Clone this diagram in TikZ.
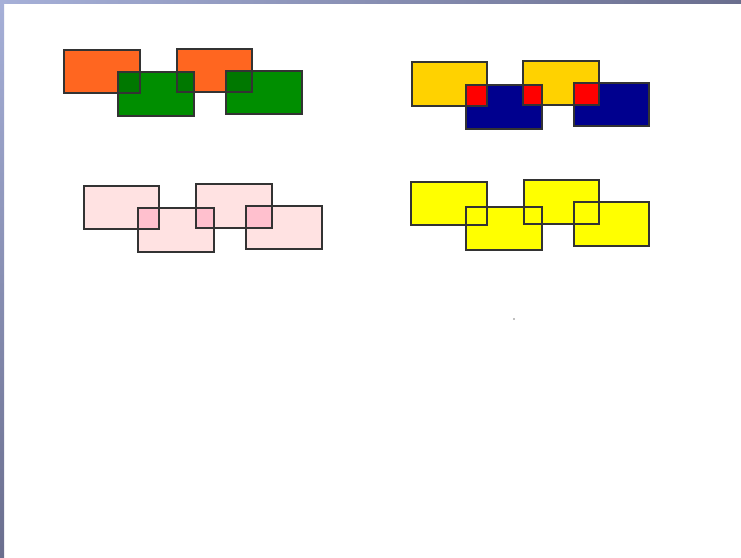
\documentclass[tikz,border=0pt]{standalone}
\definecolor{orangeA}{HTML}{FF6620}
\definecolor{greenA}{HTML}{008E00}
\definecolor{greenD}{HTML}{007800}
\definecolor{goldA}{HTML}{FFD200}
\definecolor{navyA}{HTML}{00008E}
\definecolor{redA}{HTML}{FF0000}
\definecolor{pinkL}{HTML}{FFE2E2}
\definecolor{pinkD}{HTML}{FFC0CE}
\definecolor{yellowA}{HTML}{FFFF00}
\definecolor{edgeA}{HTML}{333333}
\definecolor{barL}{HTML}{A6B0D8}
\definecolor{barD}{HTML}{6A6E8E}
\tikzset{
  box/.style={draw=edgeA, line width=1.3pt},
  ovl/.style={draw=none},
}
\begin{document}
\begin{tikzpicture}[x=1pt,y=-1pt]
\useasboundingbox (0,0) rectangle (741,557);
\fill[white] (0,0) rectangle (741,557);
% frame bars
\shade[left color=barL, right color=barD] (0,0) rectangle (741,3);
\shade[top color=barL, bottom color=barD] (0,0) rectangle (4,557);

% group 1: orange / green
\fill[orangeA] (64,50) rectangle (140,93);
\fill[orangeA] (177,49) rectangle (252,92);
\fill[greenA] (118,72) rectangle (194,116);
\fill[greenA] (226,71) rectangle (302,114);
\fill[greenD] (118,72) rectangle (140,93);
\fill[greenD] (177,72) rectangle (194,92);
\fill[greenD] (226,71) rectangle (252,92);
\draw[box] (64,50) rectangle (140,93);
\draw[box] (177,49) rectangle (252,92);
\draw[box] (118,72) rectangle (194,116);
\draw[box] (226,71) rectangle (302,114);

% group 2: gold / navy with red overlaps
\fill[goldA] (412,62) rectangle (487,106);
\fill[goldA] (523,61) rectangle (599,105);
\fill[navyA] (466,85) rectangle (542,129);
\fill[navyA] (574,83) rectangle (649,126);
\fill[redA] (466,85) rectangle (487,106);
\fill[redA] (523,85) rectangle (542,105);
\fill[redA] (574,83) rectangle (599,105);
\draw[box] (412,62) rectangle (487,106);
\draw[box] (523,61) rectangle (599,105);
\draw[box] (466,85) rectangle (542,129);
\draw[box] (574,83) rectangle (649,126);

% group 3: pink
\fill[pinkL] (84,186) rectangle (159,229);
\fill[pinkL] (196,184) rectangle (272,228);
\fill[pinkL] (138,208) rectangle (214,252);
\fill[pinkL] (246,206) rectangle (322,249);
\fill[pinkD] (138,208) rectangle (159,229);
\fill[pinkD] (196,208) rectangle (214,228);
\fill[pinkD] (246,206) rectangle (272,228);
\draw[box] (84,186) rectangle (159,229);
\draw[box] (196,184) rectangle (272,228);
\draw[box] (138,208) rectangle (214,252);
\draw[box] (246,206) rectangle (322,249);

% group 4: yellow
\fill[yellowA] (411,182) rectangle (487,225);
\fill[yellowA] (524,180) rectangle (599,224);
\fill[yellowA] (466,207) rectangle (542,250);
\fill[yellowA] (574,202) rectangle (649,246);
\draw[box] (411,182) rectangle (487,225);
\draw[box] (524,180) rectangle (599,224);
\draw[box] (466,207) rectangle (542,250);
\draw[box] (574,202) rectangle (649,246);

% small dot
\fill[gray] (514,319) circle (0.9);
\end{tikzpicture}
\end{document}
